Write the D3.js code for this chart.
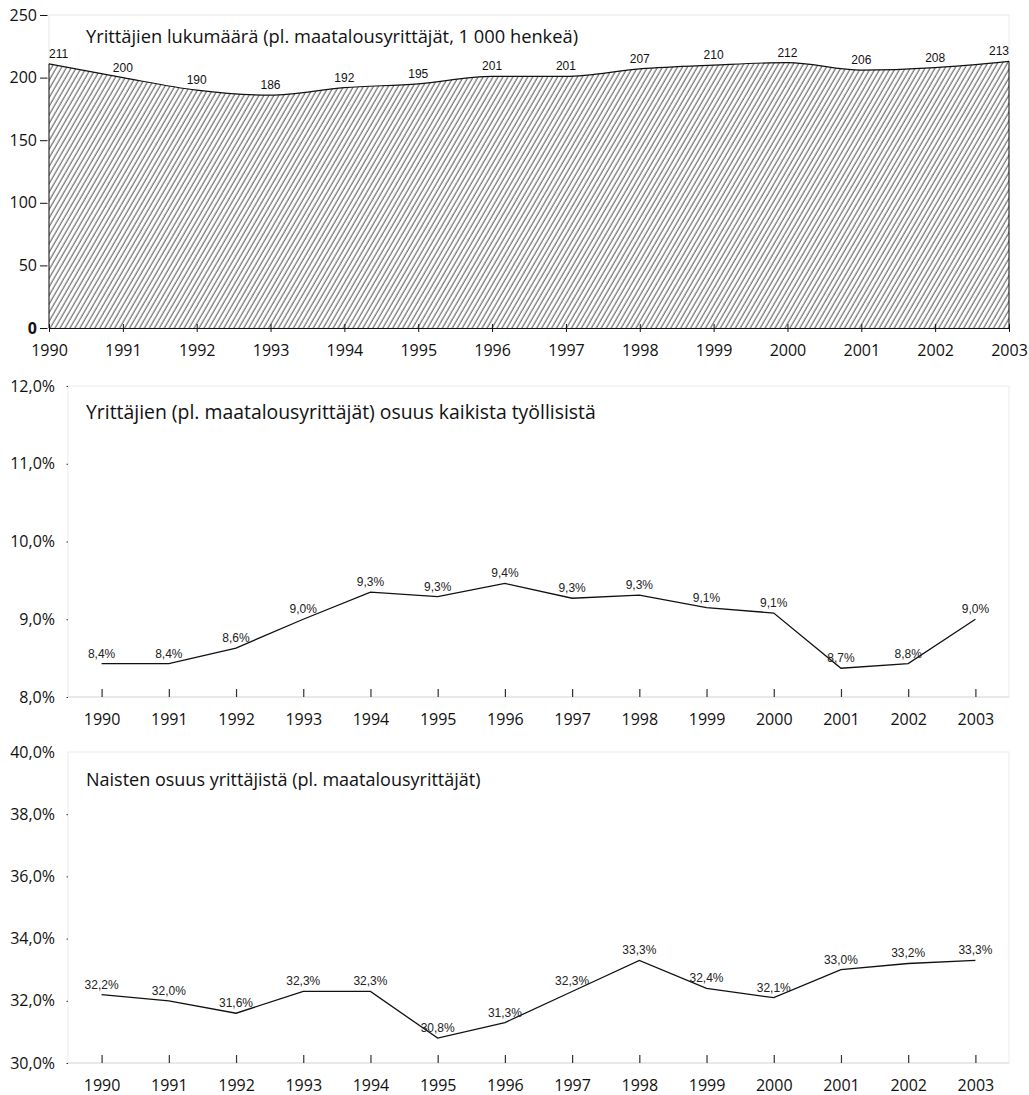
<!DOCTYPE html>
<html>
<head>
<meta charset="utf-8">
<script src="https://cdn.jsdelivr.net/npm/d3@7"></script>
<style>
  body { margin: 0; background: #fff; }
  svg { display: block; }
</style>
</head>
<body>
<div id="chart_div"></div>
<script>
// Data
var years = [1990, 1991, 1992, 1993, 1994, 1995, 1996, 1997, 1998, 1999, 2000, 2001, 2002, 2003];

// Panel 1: entrepreneurs, thousands
var entrepreneurs = [211, 200, 190, 186, 192, 195, 201, 201, 207, 210, 212, 206, 208, 213];
var entTicks = [0, 50, 100, 150, 200, 250];

// Panel 2: share of all employed, % (positions as drawn, labels as printed)
var shareEmployed = [8.43, 8.43, 8.63, 9.0, 9.35, 9.29, 9.46, 9.27, 9.31, 9.15, 9.08, 8.37, 8.43, 9.0];
var shareEmployedLabels = ["8,4%", "8,4%", "8,6%", "9,0%", "9,3%", "9,3%", "9,4%", "9,3%", "9,3%", "9,1%", "9,1%", "8,7%", "8,8%", "9,0%"];
var shareTicks = [8, 9, 10, 11, 12];

// Panel 3: women's share of entrepreneurs, %
var womenShare = [32.2, 32.0, 31.6, 32.3, 32.3, 30.8, 31.3, 32.3, 33.3, 32.4, 32.1, 33.0, 33.2, 33.3];
var womenLabels = ["32,2%", "32,0%", "31,6%", "32,3%", "32,3%", "30,8%", "31,3%", "32,3%", "33,3%", "32,4%", "32,1%", "33,0%", "33,2%", "33,3%"];
var womenTicks = [30, 32, 34, 36, 38, 40];

var titles = [
  "Yrittäjien lukumäärä (pl. maatalousyrittäjät, 1 000 henkeä)",
  "Yrittäjien (pl. maatalousyrittäjät) osuus kaikista työllisistä",
  "Naisten osuus yrittäjistä (pl. maatalousyrittäjät)"
];

var width = 1029, height = 1095;
var axisFont = "'Open Sans', 'Noto Sans', sans-serif";
var labelFont = "'Liberation Sans', Arial, sans-serif";
var pct = v => d3.format(".1f")(v).replace(".", ",") + "%";

var svg = d3.select("#chart_div")
  .append("svg")
  .attr("width", width)
  .attr("height", height)
  .attr("viewBox", [0, 0, width, height]);

// hatch pattern for the area
var defs = svg.append("defs");
defs.append("pattern")
  .attr("id", "hatch")
  .attr("patternUnits", "userSpaceOnUse")
  .attr("width", 4.3)
  .attr("height", 10)
  .attr("patternTransform", "rotate(30)")
  .append("line")
    .attr("x1", 1).attr("y1", 0)
    .attr("x2", 1).attr("y2", 10)
    .attr("stroke", "#222")
    .attr("stroke-width", 0.85);

// ---------- Panel 1 ----------
var p1 = { left: 49, right: 1009, top: 15, bottom: 328 };

var x1 = d3.scalePoint().domain(years).range([p1.left, p1.right]);
var y1 = d3.scaleLinear().domain([0, 250]).range([p1.bottom, p1.top]);

var g1 = svg.append("g");

// light frame
g1.append("rect")
  .attr("x", p1.left).attr("y", p1.top)
  .attr("width", p1.right - p1.left).attr("height", p1.bottom - p1.top)
  .attr("fill", "none").attr("stroke", "#f0f0f0").attr("stroke-width", 1.5);

var area = d3.area()
  .x((d, i) => x1(years[i]))
  .y0(y1(0))
  .y1(d => y1(d))
  .curve(d3.curveMonotoneX);

g1.append("path")
  .datum(entrepreneurs)
  .attr("d", area)
  .attr("fill", "url(#hatch)")
  .attr("stroke", "none");

g1.append("path")
  .datum(entrepreneurs)
  .attr("d", area.lineY1())
  .attr("fill", "none")
  .attr("stroke", "#111")
  .attr("stroke-width", 1.2);

// end edges of the area
g1.selectAll(".edge")
  .data([0, years.length - 1])
  .join("line")
    .attr("x1", i => x1(years[i])).attr("x2", i => x1(years[i]))
    .attr("y1", y1(0)).attr("y2", i => y1(entrepreneurs[i]))
    .attr("stroke", "#111").attr("stroke-width", 1);

// x axis
g1.append("g")
  .attr("transform", `translate(0,${p1.bottom})`)
  .call(d3.axisBottom(x1).tickSizeInner(0).tickSizeOuter(0).tickPadding(17))
  .call(g => g.select(".domain").attr("stroke", "#111").attr("stroke-width", 1.2))
  .call(g => g.selectAll(".tick line").attr("y1", -4).attr("y2", 4).attr("stroke", "#111"))
  .call(g => g.selectAll(".tick text")
    .attr("fill", "#111").style("font", `16px ${axisFont}`));

// y axis
g1.append("g")
  .attr("transform", `translate(${p1.left},0)`)
  .call(d3.axisLeft(y1).tickValues(entTicks).tickSize(9).tickPadding(3).tickFormat(d3.format("d")))
  .call(g => g.select(".domain").remove())
  .call(g => g.selectAll(".tick line").attr("stroke", "#111").attr("x2", -1.5).attr("x1", -9))
  .call(g => g.selectAll(".tick text")
    .attr("fill", "#111").style("font", `16px ${axisFont}`)
    .style("font-weight", d => d === 0 ? 700 : 400));

// value labels
g1.selectAll(".val")
  .data(entrepreneurs)
  .join("text")
    .attr("x", (d, i) => x1(years[i]))
    .attr("y", d => y1(d) - 6)
    .attr("text-anchor", (d, i) => i === 0 ? "start" : i === years.length - 1 ? "end" : "middle")
    .attr("fill", "#111")
    .style("font", `12px ${labelFont}`)
    .text(d => d);

g1.append("text")
  .attr("x", 86).attr("y", 43)
  .attr("fill", "#111")
  .style("font", `18.3px ${axisFont}`)
  .text(titles[0]);

// ---------- Panels 2 and 3 ----------
function linePanel(box, values, labels, ticks, title, titleY, titleSize, yearY) {
  var x = d3.scalePoint().domain(years).range([box.left, box.right]).padding(0.5);
  var y = d3.scaleLinear().domain(d3.extent(ticks)).range([box.bottom, box.top]);

  var g = svg.append("g");

  g.append("rect")
    .attr("x", box.left).attr("y", box.top)
    .attr("width", box.right - box.left).attr("height", box.bottom - box.top)
    .attr("fill", "none").attr("stroke", "#f2f2f2").attr("stroke-width", 1.5);

  g.append("line")
    .attr("x1", box.left).attr("x2", box.right)
    .attr("y1", box.bottom).attr("y2", box.bottom)
    .attr("stroke", "#e8e8e8").attr("stroke-width", 2);

  // x axis ticks + years
  g.append("g")
    .attr("transform", `translate(0,${box.bottom})`)
    .call(d3.axisBottom(x).tickSizeInner(0).tickSizeOuter(0).tickPadding(yearY))
    .call(g => g.select(".domain").remove())
    .call(g => g.selectAll(".tick line").attr("y1", -8).attr("y2", 0)
      .attr("stroke", "#333").attr("stroke-width", 1.2))
    .call(g => g.selectAll(".tick text")
      .attr("fill", "#111").style("font", `16px ${axisFont}`));

  // y axis
  var topTick = d3.max(ticks);
  g.append("g")
    .attr("transform", `translate(${box.left},0)`)
    .call(d3.axisLeft(y).tickValues(ticks).tickSize(10).tickPadding(3).tickFormat(pct))
    .call(g => g.select(".domain").remove())
    .call(g => g.selectAll(".tick line").attr("stroke", "#333").attr("x2", -1.5)
      .attr("display", d => (d === topTick && ticks.length > 5) ? "none" : null))
    .call(g => g.selectAll(".tick text")
      .attr("fill", "#111").style("font", `16px ${axisFont}`));

  var line = d3.line()
    .x((d, i) => x(years[i]))
    .y(d => y(d));

  g.append("path")
    .datum(values)
    .attr("d", line)
    .attr("fill", "none")
    .attr("stroke", "#111")
    .attr("stroke-width", 1.3);

  g.selectAll(".val")
    .data(values)
    .join("text")
      .attr("x", (d, i) => x(years[i]))
      .attr("y", d => y(d) - 6)
      .attr("text-anchor", "middle")
      .attr("fill", "#222")
      .style("font", `12px ${labelFont}`)
      .text((d, i) => labels[i]);

  g.append("text")
    .attr("x", 86).attr("y", titleY)
    .attr("fill", "#111")
    .style("font", `${titleSize}px ${axisFont}`)
    .text(title);
}

linePanel({ left: 68, right: 1009, top: 386, bottom: 697 },
  shareEmployed, shareEmployedLabels, shareTicks, titles[1], 419, 19.4, 17);

linePanel({ left: 68, right: 1009, top: 752, bottom: 1063 },
  womenShare, womenLabels, womenTicks, titles[2], 786, 18, 17);
</script>
</body>
</html>
